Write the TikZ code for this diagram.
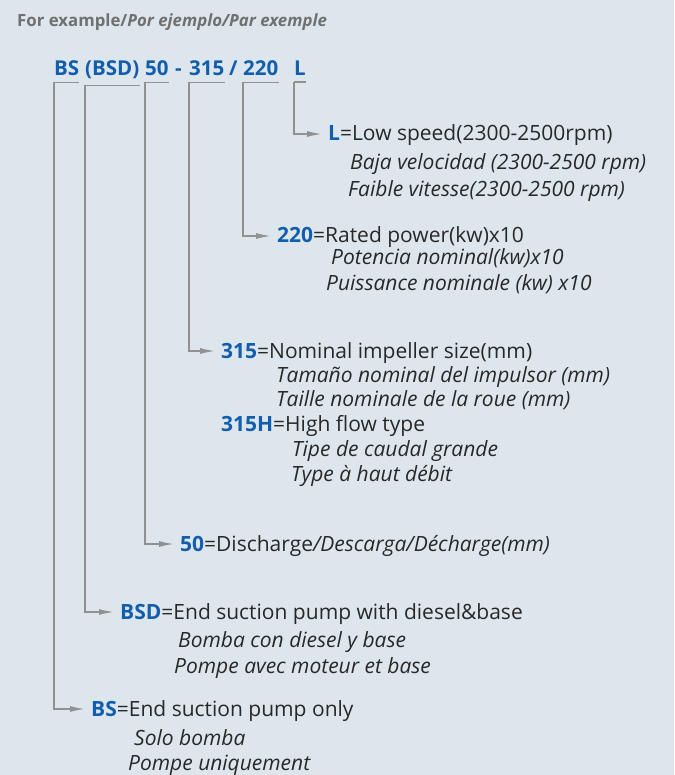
\documentclass[tikz,border=0pt]{standalone}
\usepackage{fontspec}
\setmainfont{Open Sans}
\usetikzlibrary{arrows.meta}

\definecolor{bgcol}{RGB}{221,230,237}
\definecolor{codeblue}{RGB}{18,94,172}
\definecolor{txtcol}{RGB}{40,40,40}
\definecolor{titlegray}{RGB}{112,112,112}
\definecolor{linegray}{RGB}{145,145,145}

\newcommand{\cd}[1]{\textbf{\textcolor{codeblue}{#1}}}

\tikzset{
  code/.style={anchor=base west,inner sep=0pt,text=codeblue,font=\fontsize{20.5}{24}\selectfont\bfseries},
  desc/.style={anchor=base west,inner sep=0pt,text=txtcol,font=\fontsize{21}{24}\selectfont},
  trans/.style={anchor=base west,inner sep=0pt,text=txtcol,font=\fontsize{21}{24}\selectfont\itshape},
  bracket/.style={draw=linegray,line width=1.5pt},
  link/.style={draw=linegray,line width=1.5pt,-{Latex[length=15pt,width=6pt]}}
}

\begin{document}
\begin{tikzpicture}[x=1pt,y=-1pt]
  \fill[bgcol] (0,0) rectangle (674,775);
  \useasboundingbox (0,0) rectangle (674,775);

  % heading
  \node[anchor=base west,inner sep=0pt,text=titlegray,font=\fontsize{16.8}{20}\selectfont\bfseries] (title) at (17,27)
    {For example/\textit{Por ejemplo/Par exemple}};

  % model code
  \node[code] (cBS) at (54,76) {BS};
  \node[code] (cBSD) at (85,76) {(BSD)};
  \node[code] (c50) at (145,76) {50};
  \node[code] (dash) at (175,76) {-};
  \node[code] (c315) at (189,76) {315};
  \node[code] (slash) at (229,76) {/};
  \node[code] (c220) at (243,76) {220};
  \node[code] (cL) at (294,76) {L};

  % meanings
  \node[desc] (dL) at (328,141) {\cd{L}=Low speed(2300-2500rpm)};
  \node[trans] (dLes) at (350,170) {Baja velocidad (2300-2500 rpm)};
  \node[trans] (dLfr) at (348,197) {Faible vitesse(2300-2500 rpm)};

  \node[desc] (d220) at (277,243) {\cd{220}=Rated power(kw)x10};
  \node[trans] (d220es) at (331,265) {Potencia nominal(kw)x10};
  \node[trans] (d220fr) at (326,290) {Puissance nominale (kw) x10};

  \node[desc] (d315) at (221,358) {\cd{315}=Nominal impeller size(mm)};
  \node[trans] (d315es) at (276,382) {Tamaño nominal del impulsor (mm)};
  \node[trans] (d315fr) at (276,406) {Taille nominale de la roue (mm)};
  \node[desc] (d315H) at (221,431) {\cd{315H}=High flow type};
  \node[trans] (d315Hes) at (292,456) {Tipe de caudal grande};
  \node[trans] (d315Hfr) at (291,481) {Type à haut débit};

  \node[desc] (d50) at (180,551) {\cd{50}=Discharge\textit{/Descarga/Décharge(mm)}};

  \node[desc] (dBSD) at (120,619) {\cd{BSD}=End suction pump with diesel\&base};
  \node[trans] (dBSDes) at (178,647) {Bomba con diesel y base};
  \node[trans] (dBSDfr) at (174,673) {Pompe avec moteur et base};

  \node[desc] (dBS) at (91,716) {\cd{BS}=End suction pump only};
  \node[trans] (dBSes) at (134,745) {Solo bomba};
  \node[trans] (dBSfr) at (128,770) {Pompe uniquement};

  % brackets and leaders
  \foreach \c/\d in {cBS/dBS,cBSD/dBSD,c50/d50,c315/d315,c220/d220,cL/dL}{
    \draw[bracket] ([yshift=-6]\c.south west) -- ([yshift=-6]\c.south east);
    \draw[link] ([yshift=-6]\c.south west) |- ([shift={(-6,-7)}]\d.base west);
  }
\end{tikzpicture}
\end{document}
